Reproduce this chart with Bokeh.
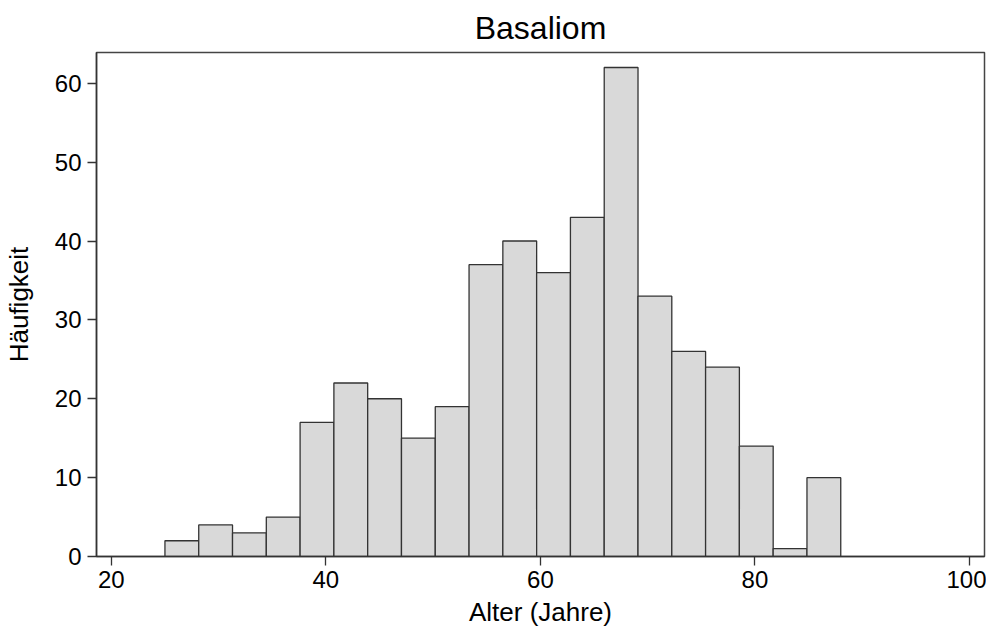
from bokeh.plotting import figure
from bokeh.models import ColumnDataSource, FixedTicker
from bokeh.embed import file_html
from bokeh.resources import INLINE

# Data
counts = [2, 4, 3, 5, 17, 22, 20, 15, 19, 37, 40, 36, 43, 62, 33, 26, 24, 14, 1, 10]
bin_start = 25.0
bin_width = 3.15
x_ticks = [20, 40, 60, 80, 100]
y_ticks = [0, 10, 20, 30, 40, 50, 60]

lefts = [bin_start + i * bin_width for i in range(len(counts))]
rights = [l + bin_width for l in lefts]
src = ColumnDataSource(dict(left=lefts, right=rights, top=counts, bottom=[0] * len(counts)))

FONT = "Liberation Sans"

p = figure(frame_width=888, frame_height=504, x_range=(18.62, 101.4), y_range=(0, 63.9),
           output_backend="svg", toolbar_location=None, title="Basaliom",
           min_border_left=90, min_border_right=2, min_border_top=0, min_border_bottom=0)

p.quad(left="left", right="right", top="top", bottom="bottom", source=src,
       fill_color="#d9d9d9", line_color="#333333", line_width=1.3)

p.grid.visible = False
p.outline_line_color = "#444444"
p.outline_line_width = 1.5
p.background_fill_color = "white"
p.border_fill_color = "white"

p.title.text_font = FONT
p.title.text_font_size = "32px"
p.title.text_font_style = "normal"
p.title.align = "center"
p.title.text_color = "black"
p.title.standoff = 14

for ax in (p.xaxis[0], p.yaxis[0]):
    ax.axis_line_color = "#333333"
    ax.axis_line_width = 1.5
    ax.major_tick_line_color = "#333333"
    ax.major_tick_line_width = 1.3
    ax.major_tick_in = 0
    ax.major_tick_out = 9
    ax.minor_tick_line_color = None
    ax.major_label_text_font = FONT
    ax.major_label_text_font_size = "24px"
    ax.major_label_text_color = "black"
    ax.axis_label_text_font = FONT
    ax.axis_label_text_font_size = "26px"
    ax.axis_label_text_font_style = "normal"
    ax.axis_label_text_color = "black"

p.xaxis.ticker = FixedTicker(ticks=x_ticks)
p.yaxis.ticker = FixedTicker(ticks=y_ticks)
p.xaxis.axis_label = "Alter (Jahre)"
p.yaxis.axis_label = "Häufigkeit"
p.xaxis.major_label_standoff = 5
p.xaxis.axis_label_standoff = 6
p.yaxis.major_label_standoff = 6
p.yaxis.axis_label_standoff = 18
p.yaxis.major_label_orientation = "horizontal"

open("out.html", "w").write(file_html(p, INLINE))
